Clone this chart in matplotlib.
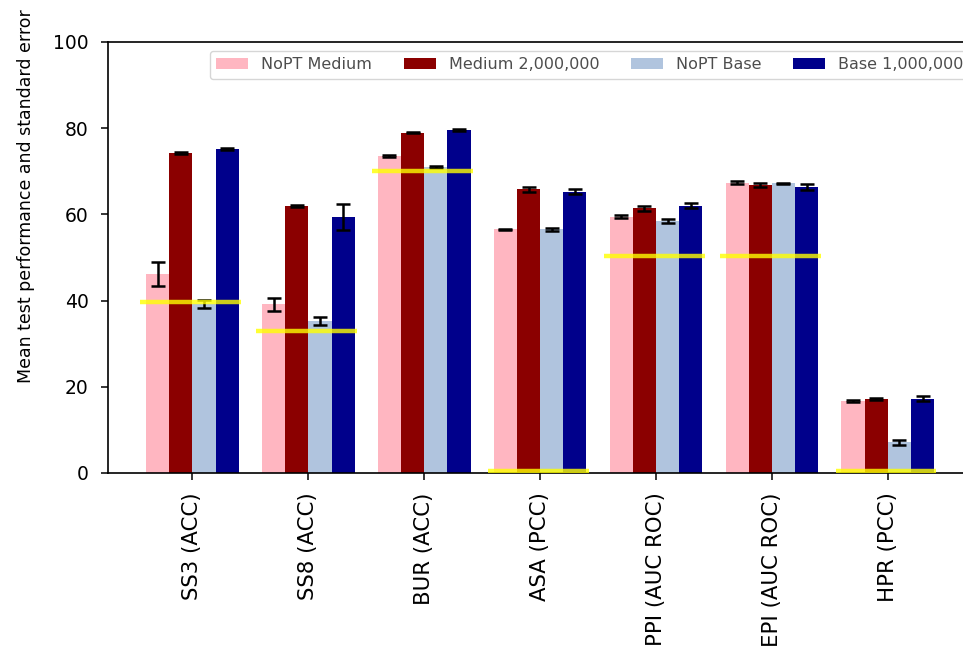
import numpy as np
import matplotlib
matplotlib.use("Agg")
from matplotlib import pyplot as plt

tasks = ["SS3 (ACC)", "SS8 (ACC)", "BUR (ACC)", "ASA (PCC)",
         "PPI (AUC ROC)", "EPI (AUC ROC)", "HPR (PCC)"]

# mean test performance per task
nopt_medium = [46.1, 39.1, 73.6, 56.5, 59.5, 67.4, 16.7]
medium_2m = [74.2, 62.0, 79.0, 65.8, 61.4, 66.9, 17.2]
nopt_base = [39.2, 35.3, 71.0, 56.5, 58.5, 67.2, 7.1]
base_1m = [75.2, 59.3, 79.6, 65.3, 62.0, 66.4, 17.2]

# standard errors
nopt_medium_err = [2.8, 1.5, 0.2, 0.2, 0.4, 0.4, 0.2]
medium_2m_err = [0.2, 0.2, 0.2, 0.5, 0.6, 0.5, 0.3]
nopt_base_err = [1.0, 0.9, 0.2, 0.3, 0.4, 0.2, 0.5]
base_1m_err = [0.2, 3.0, 0.3, 0.5, 0.6, 0.7, 0.6]

# previous state of the art per task
baselines = [39.7, 32.9, 70.1, 0.5, 50.3, 50.3, 0.5]

labels = ["NoPT Medium", "Medium 2,000,000", "NoPT Base", "Base 1,000,000"]
colors = ["lightpink", "darkred", "lightsteelblue", "darkblue"]

if __name__ == "__main__":
  fig = plt.figure(figsize=(9.63, 6.54), dpi=100)
  ax = fig.add_axes([108 / 963, 181 / 654, 869 / 963, 431 / 654])

  x = np.arange(len(tasks))
  width = 0.2
  series = [(nopt_medium, nopt_medium_err), (medium_2m, medium_2m_err),
            (nopt_base, nopt_base_err), (base_1m, base_1m_err)]
  for i, (vals, errs) in enumerate(series):
    ax.bar(x + (i - 1.5) * width, vals, width, yerr=errs, color=colors[i],
           label=labels[i], capsize=5,
           error_kw=dict(elinewidth=1.8, capthick=1.8, ecolor="black"))

  # baseline marker across each group
  ax.hlines(baselines, x - 0.45, x + 0.42, colors="yellow", linewidth=3.2,
            alpha=0.8, zorder=3)

  ax.set_xlim(-0.729, 6.77)
  ax.set_ylim(0, 100)
  ax.set_xticks(x)
  ax.set_xticklabels(tasks, rotation=90, fontsize=15.3)
  ax.set_yticks([0, 20, 40, 60, 80, 100])
  ax.tick_params(axis="y", labelsize=13.5, pad=9, length=5, width=1.1)
  ax.tick_params(axis="x", pad=9, length=5, width=1.1)
  for side in ["left", "bottom", "top", "right"]:
    ax.spines[side].set_linewidth(1.2)

  ax.set_ylabel("Mean test performance and standard error", fontsize=12.5)
  ax.yaxis.set_label_coords(-0.084, 0.643)

  ax.legend(loc="upper left", bbox_to_anchor=(210 / 963, 1 - 51 / 654),
            bbox_transform=fig.transFigure, ncol=4, fontsize=11.5,
            borderaxespad=0, handlelength=2.0, columnspacing=2.0,
            labelcolor="0.3")

  fig.savefig("out.png", dpi=100)
